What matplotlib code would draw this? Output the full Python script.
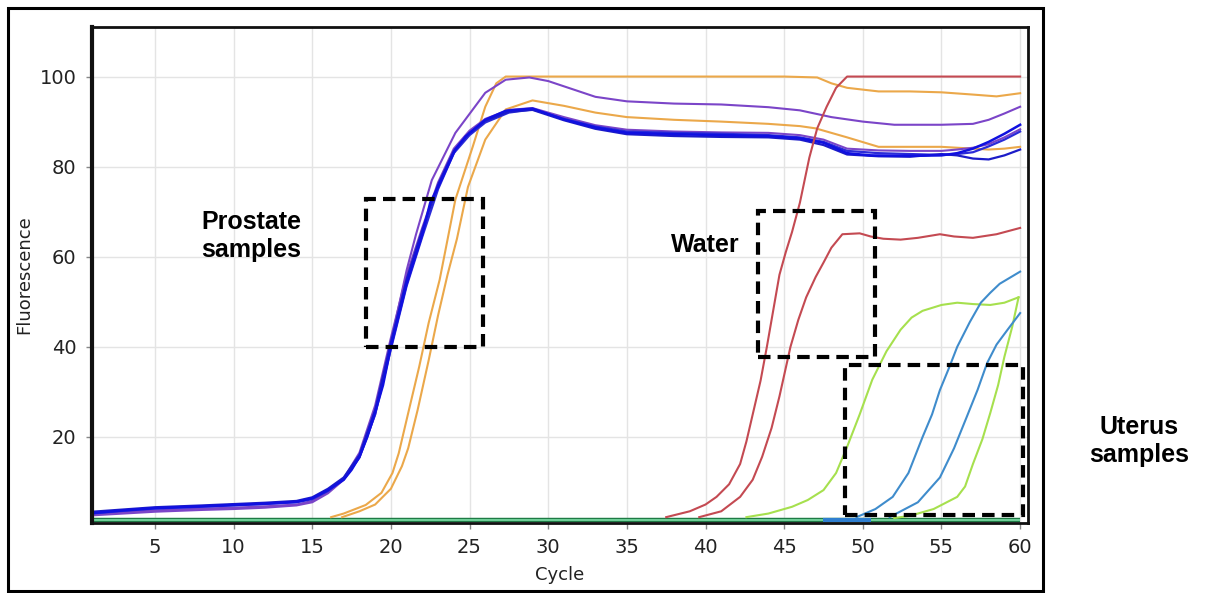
import matplotlib.pyplot as plt
from matplotlib.patches import Rectangle

W, H = 1206, 593

# prostate samples (blue / purple)
blue1_cyc = [1, 3, 5, 8, 10, 12, 14, 15, 16, 17, 17.5, 18, 18.5, 19, 19.5, 20, 21, 22, 22.5, 23, 24.1, 24.75,
             26, 27.3, 29, 31, 33, 35, 38, 41, 44, 46, 47.5, 49, 50.5, 53, 55, 56, 57, 58, 59, 60]
blue1_fl = [3.1, 3.7, 4.2, 4.6, 4.9, 5.2, 5.6, 6.4, 8.2, 10.5, 12.7, 15.6, 20, 25.5, 31.5, 40, 54, 65, 72, 75.5, 83.8, 86.7,
            90.4, 92.4, 92.9, 90.5, 88.7, 87.5, 87.2, 87, 86.8, 86.3, 85.3, 83, 82.5, 82.4, 82.5, 83, 84, 85.5, 87.3, 89.3]

grp_cyc = [1, 3, 5, 8, 10, 12, 14, 15, 16, 17, 18, 19, 20, 21, 22, 23, 24, 25, 26, 27.5, 29,
           31, 33, 35, 38, 41, 44, 46, 47.5, 49, 51, 53, 55, 56, 57, 58, 59, 60]
blue2_fl = [3.4, 3.9, 4.4, 4.8, 5.1, 5.4, 5.8, 6.6, 8.5, 11, 16, 26, 41, 55, 66, 76, 83.5, 87.5, 90.2, 92.2, 92.6,
            90.3, 88.4, 87.2, 86.8, 86.6, 86.5, 86, 84.8, 82.7, 82.3, 82.2, 82.8, 82.5, 81.8, 81.6, 82.5, 83.8]
blue3_fl = [3.0, 3.6, 4.1, 4.5, 4.8, 5.1, 5.5, 6.2, 8.0, 10.6, 15.4, 25, 39.5, 53.5, 64.5, 75, 83, 87, 89.8, 92, 92.7,
            90.6, 88.9, 87.8, 87.5, 87.3, 87.0, 86.5, 85.5, 83.5, 83, 82.8, 82.6, 82.8, 83.2, 84.5, 86, 87.8]
purple2_fl = [2.8, 3.3, 3.7, 4.1, 4.3, 4.6, 5.0, 5.8, 7.8, 10.8, 16.5, 27, 42, 56, 66.5, 76.5, 84, 88, 90.6, 92.6, 93,
              91, 89.2, 88.2, 87.8, 87.6, 87.5, 87, 86, 84, 83.6, 83.5, 83.5, 83.8, 84.2, 85, 86.5, 88.3]

purple1_cyc = [1, 3, 5, 8, 10, 12, 14, 15, 16, 17, 18, 19, 20, 21, 21.6, 22.6, 24.1, 26, 27.3, 28.8, 30,
               33, 35, 38, 41, 44, 46, 48, 50, 52, 55, 57, 58, 59, 60]
purple1_fl = [2.6, 3.0, 3.4, 3.8, 4.0, 4.3, 4.8, 5.5, 7.5, 10.5, 15.5, 25, 41, 57, 65, 77, 87.5, 96.4, 99.3, 99.8, 99,
              95.5, 94.5, 94, 93.8, 93.2, 92.5, 91, 90, 89.3, 89.3, 89.5, 90.4, 91.8, 93.3]

orange1_cyc = [16.2, 17, 18.4, 19.4, 20.1, 20.5, 21.1, 21.8, 22.4, 23.1, 23.6, 24.1, 25.2, 26, 26.7, 27.3,
               30, 35, 40, 45, 47.1, 48, 49, 51, 53, 55, 57, 58.5, 60]
orange1_fl = [2.2, 3, 4.9, 7.6, 12, 16.4, 25.3, 35.6, 45.3, 54.9, 63.8, 72.7, 84.4, 93.3, 98.5, 100,
              100, 100, 100, 100, 99.8, 98.5, 97.5, 96.7, 96.7, 96.5, 96, 95.6, 96.3]
orange2_cyc = [16.9, 18, 19, 20, 20.7, 21.1, 21.7, 22.4, 23, 23.6, 24.2, 24.9, 26, 27.3, 29, 31, 33, 35,
               38, 41, 44, 46, 47, 48, 49, 51, 53, 55, 57, 58, 59, 60]
orange2_fl = [2.2, 3.5, 5, 8.5, 13.5, 17.5, 26, 37, 47, 56, 64, 75.5, 86, 92.7, 94.7, 93.5, 92, 91,
              90.4, 90, 89.5, 89, 88.5, 87.5, 86.5, 84.4, 84.4, 84.4, 84, 83.8, 84, 84.4]

# water
red1_cyc = [37.5, 39, 40, 40.7, 41.5, 42.2, 42.6, 43, 43.5, 43.9, 44.3, 44.7, 45.1, 45.5, 46, 46.6, 47.1,
            47.7, 48.3, 49, 52, 56, 60]
red1_fl = [2.2, 3.5, 5, 6.7, 9.5, 14, 19, 25, 32.5, 40, 48, 56, 61, 65.5, 72, 82, 88.5,
           93.3, 97.5, 100, 100, 100, 100]
red2_cyc = [39.6, 41, 42.2, 43, 43.6, 44.2, 44.7, 45.4, 45.9, 46.4, 47, 47.5, 48, 48.7, 49.8, 50.5, 51.3,
            52.4, 53.5, 54.9, 55.8, 57, 58.5, 60]
red2_fl = [2.2, 3.5, 6.7, 10.5, 15.6, 22, 29, 40, 46, 51, 55.5, 58.7, 62, 65, 65.2, 64.5, 64,
           63.8, 64.2, 65, 64.5, 64.2, 65, 66.4]

# uterus samples
green1_cyc = [42.6, 44, 45.5, 46.5, 47.5, 48.3, 49, 49.8, 50.6, 51.5, 52.4, 53.1, 53.8, 55, 56, 57, 58.1, 59, 59.9]
green1_fl = [2.2, 3, 4.5, 6, 8.2, 12, 17.8, 25, 32.7, 39, 43.8, 46.5, 48, 49.3, 49.8, 49.5, 49.3, 49.8, 51]
green2_cyc = [52, 53, 54.5, 56, 56.5, 57, 57.6, 58.1, 58.6, 59, 59.5, 59.9]
green2_fl = [2, 2.5, 4, 6.7, 9, 14, 19.5, 25.3, 31.5, 37.8, 44.5, 51]
steel1_cyc = [49.6, 50.8, 51.9, 52.9, 53.8, 54.4, 54.9, 55.5, 56, 56.8, 57.5, 58.1, 58.7, 60]
steel1_fl = [2.2, 4, 6.7, 12, 20, 25, 30.4, 35.5, 40, 45.5, 49.8, 52, 54, 56.7]
steel2_cyc = [51.7, 53.5, 54.9, 55.8, 56.6, 57.3, 57.9, 58.5, 59.2, 60]
steel2_fl = [2.2, 5.5, 11, 17.5, 24.4, 30.5, 36.4, 40.5, 43.8, 47.5]

# flat baselines
base_cyc = [1, 60]
base_fl = [1.5, 1.5]
base_steel_cyc = [47.5, 50.5]
base_steel_fl = [1.5, 1.5]

fig = plt.figure(figsize=(W / 100, H / 100), dpi=100)
ax = fig.add_axes([92 / W, 1 - 523 / H, 936 / W, 496 / H])

ax.plot(base_cyc, base_fl, color='#1f7a45', lw=3.2, solid_capstyle='butt')
ax.plot(base_cyc, base_fl, color='#7fe0a8', lw=1.2, solid_capstyle='butt')
ax.plot(base_steel_cyc, base_steel_fl, color='#2f7fd0', lw=3, solid_capstyle='butt')

ax.plot(orange2_cyc, orange2_fl, color='#eba84a', lw=1.5)
ax.plot(orange1_cyc, orange1_fl, color='#eba84a', lw=1.5)
ax.plot(purple1_cyc, purple1_fl, color='#7b45c8', lw=1.5)
ax.plot(grp_cyc, purple2_fl, color='#7b45c8', lw=1.5)
ax.plot(grp_cyc, blue3_fl, color='#2b2bd8', lw=1.6)
ax.plot(grp_cyc, blue2_fl, color='#1c1cc8', lw=1.6)
ax.plot(blue1_cyc, blue1_fl, color='#1010e0', lw=1.8)

ax.plot(red1_cyc, red1_fl, color='#c44a52', lw=1.5)
ax.plot(red2_cyc, red2_fl, color='#c44a52', lw=1.5)
ax.plot(green1_cyc, green1_fl, color='#a6e04e', lw=1.5)
ax.plot(green2_cyc, green2_fl, color='#a6e04e', lw=1.5)
ax.plot(steel1_cyc, steel1_fl, color='#3f8ccc', lw=1.5)
ax.plot(steel2_cyc, steel2_fl, color='#3f8ccc', lw=1.5)

ax.set_xlim(1, 60.5)
ax.set_ylim(0.9, 111)
ax.set_xticks(range(5, 61, 5))
ax.set_yticks(range(20, 101, 20))
ax.grid(True, color='#e4e4e4', lw=1)
ax.set_axisbelow(True)
ax.tick_params(length=4, width=1, color='#888888', labelsize=14, labelcolor='#222222', pad=7)
for s in ax.spines.values():
    s.set_linewidth(2)
    s.set_color('#111111')
ax.spines['left'].set_linewidth(3)
ax.set_xlabel('Cycle', fontsize=13, color='#222222', labelpad=6)
ax.set_ylabel('Fluorescence', fontsize=13, color='#222222', labelpad=5)

# outer frame
fig.patches.append(Rectangle((8 / W, 1 - 591 / H), 1035 / W, 583 / H, transform=fig.transFigure,
                             fill=False, lw=2.2, ec='black'))

# dashed boxes around the groups (pixel corners)
for x0, y0, x1, y1 in [(366, 199, 483, 347), (758, 211, 875, 357), (845, 365, 1023, 515)]:
    fig.patches.append(Rectangle((x0 / W, 1 - y1 / H), (x1 - x0) / W, (y1 - y0) / H,
                                 transform=fig.transFigure, fill=False, lw=3, ec='black',
                                 ls=(0, (3, 1.7)), zorder=5))

tkw = dict(fontsize=18, fontweight='bold', family='Liberation Sans', ha='center', va='center',
           linespacing=1.25)
fig.text(251 / W, 1 - 236 / H, 'Prostate\nsamples', **tkw)
fig.text(705 / W, 1 - 245 / H, 'Water', **tkw)
fig.text(1139 / W, 1 - 441 / H, 'Uterus\nsamples', **tkw)

fig.savefig('out.png', dpi=100)
